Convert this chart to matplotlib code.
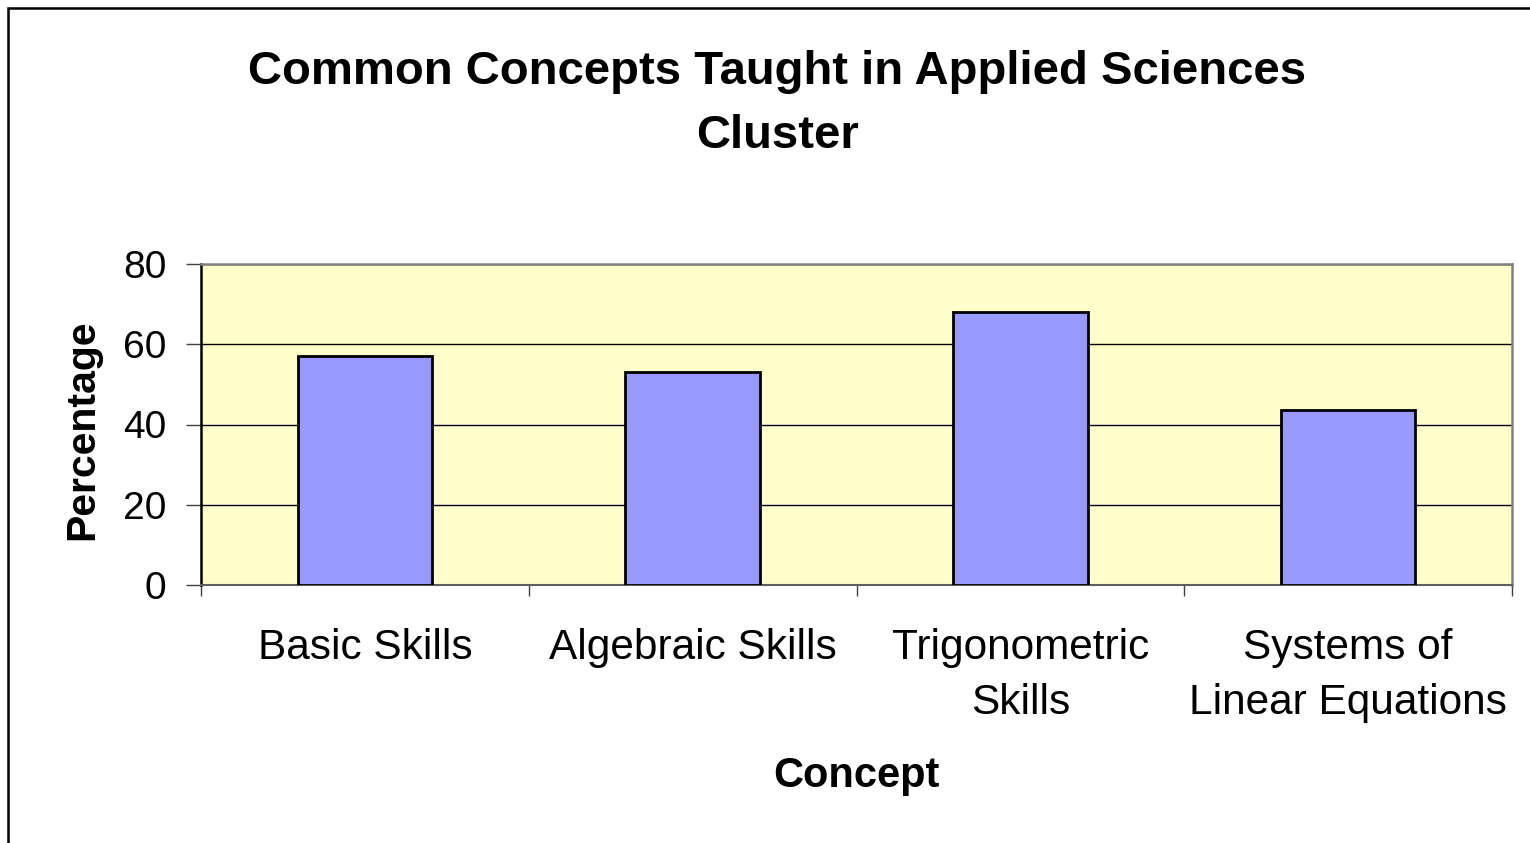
import matplotlib
matplotlib.use("Agg")
import matplotlib.pyplot as plt
from matplotlib.patches import Rectangle

plt.rcParams['font.family'] = ['Liberation Sans', 'DejaVu Sans']

categories = ["Basic Skills", "Algebraic Skills", "Trigonometric\nSkills", "Systems of\nLinear Equations"]
values = [57, 53, 68, 43.5]
y_ticks = [0, 20, 40, 60, 80]
title = "Common Concepts Taught in Applied Sciences\nCluster"
x_title = "Concept"
y_title = "Percentage"

W, H = 1530, 843
fig = plt.figure(figsize=(W / 100, H / 100), dpi=100)
fig.patch.set_facecolor('white')

# outer chart border (only left/top visible in the reference)
fig.patches.append(Rectangle((8 / W, -0.1), 1.2, (H - 8) / H + 0.1, transform=fig.transFigure,
                             fill=False, edgecolor='black', linewidth=1.8, zorder=0))

L, R, T, B = 201, 1512, 264, 585
ax = fig.add_axes([L / W, 1 - B / H, (R - L) / W, (B - T) / H])
ax.set_facecolor('#FFFFCC')

x = list(range(len(categories)))
ax.bar(x, values, width=0.41, color='#9999FF', edgecolor='black', linewidth=2.0, zorder=3)

ax.set_xlim(-0.5, len(categories) - 0.5)
ax.set_ylim(0, 80)
ax.set_yticks(y_ticks)
ax.set_yticklabels([str(t) for t in y_ticks], fontsize=28)
ax.yaxis.grid(True, color='black', linewidth=1.0, zorder=1)
ax.set_axisbelow(True)

# category boundaries as major ticks, labels on minor ticks
ax.set_xticks([i - 0.5 for i in range(len(categories) + 1)])
ax.set_xticklabels([])
ax.set_xticks(x, minor=True)
ax.set_xticklabels(categories, minor=True, fontsize=30.5, linespacing=1.48)
ax.tick_params(axis='x', which='major', direction='out', length=8, width=1.0, color='#404040')
ax.tick_params(axis='x', which='minor', length=0, pad=31)
ax.tick_params(axis='y', direction='out', length=11, width=1.0, color='#404040', pad=14)

ax.spines['left'].set_color('black')
ax.spines['left'].set_linewidth(1.8)
ax.spines['bottom'].set_color('#606060')
ax.spines['bottom'].set_linewidth(1.5)
ax.spines['top'].set_color('#808080')
ax.spines['top'].set_linewidth(1.8)
ax.spines['right'].set_color('#808080')
ax.spines['right'].set_linewidth(1.8)

fig.text(777 / W, 1 - 104 / H, title, ha='center', va='center', fontsize=34,
         fontweight='bold', linespacing=1.56)
fig.text(856 / W, 1 - 776 / H, x_title, ha='center', va='center', fontsize=30, fontweight='bold')
fig.text(82 / W, 1 - 430 / H, y_title, ha='center', va='center', fontsize=29.5,
         fontweight='bold', rotation=90)

fig.savefig('out.png', dpi=100, facecolor='white')
